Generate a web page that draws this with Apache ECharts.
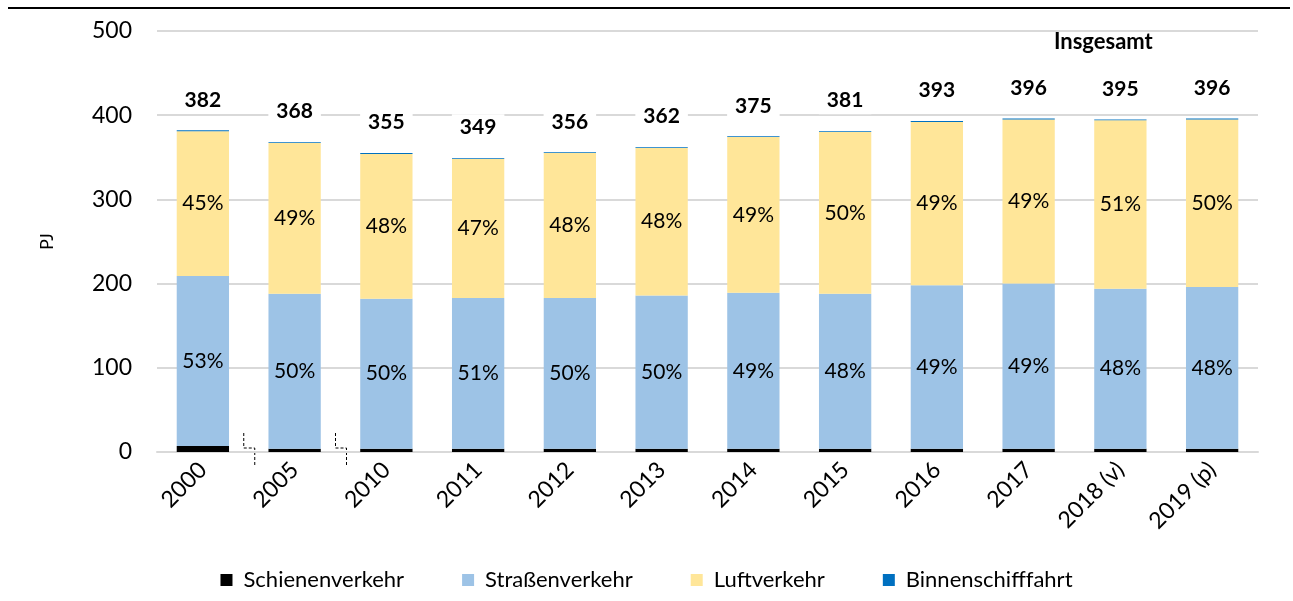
<!DOCTYPE html>
<html>
<head>
<meta charset="utf-8">
<script src="https://cdn.jsdelivr.net/npm/echarts@6/dist/echarts.min.js"></script>
<style>
  html, body { margin: 0; padding: 0; background: #fff; }
  #chart { width: 1293px; height: 601px; }
</style>
</head>
<body>
<div id="chart"></div>
<script>
// Endenergieverbrauch im Verkehr nach Verkehrsträgern, in PJ
const years = ['2000', '2005', '2010', '2011', '2012', '2013', '2014', '2015', '2016', '2017', '2018 (v)', '2019 (p)'];
const schiene = [7, 4, 4, 4, 4, 4, 4, 4, 4, 4, 4, 4];
const strasse = [202, 184, 178, 179, 179, 182, 185, 184, 194, 196, 190, 192];
const luft = [172, 179, 172, 165, 172, 175, 185, 192, 194, 195, 200, 199];
const binnen = [1, 1, 1, 1, 1, 1, 1, 1, 1, 1, 1, 1];
const yTicks = [0, 100, 200, 300, 400, 500];

const FONT = 'Lato, "Open Sans", sans-serif';
const totals = years.map((_, i) => schiene[i] + strasse[i] + luft[i] + binnen[i]);
const pct = (arr) => (p) => Math.round(arr[p.dataIndex] / totals[p.dataIndex] * 100) + '%';

const chart = echarts.init(document.getElementById('chart'));

const option = {
  animation: false,
  textStyle: { fontFamily: FONT },
  grid: { left: 157, right: 35, top: 31, bottom: 149 },
  legend: {
    bottom: 5,
    left: 'center',
    itemWidth: 12,
    itemHeight: 12,
    itemGap: 58,
    icon: 'rect',
    textStyle: { fontFamily: FONT, fontSize: 22, color: '#000', padding: [0, 0, 0, 6] },
    data: ['Schienenverkehr', 'Straßenverkehr', 'Luftverkehr', 'Binnenschifffahrt']
  },
  xAxis: {
    type: 'category',
    data: years,
    axisLine: { lineStyle: { color: '#d9d9d9', width: 2 } },
    axisTick: { show: false },
    axisLabel: { rotate: 45, fontSize: 23, color: '#000', margin: 14, fontFamily: FONT }
  },
  yAxis: {
    type: 'value',
    min: yTicks[0],
    max: yTicks[yTicks.length - 1],
    interval: 100,
    name: 'PJ',
    nameLocation: 'middle',
    nameGap: 101,
    nameRotate: 90,
    nameTextStyle: { fontSize: 18, color: '#000', fontFamily: FONT },
    axisLine: { show: false },
    axisTick: { show: false },
    axisLabel: { fontSize: 23, color: '#000', margin: 25, fontFamily: FONT },
    splitLine: { lineStyle: { color: '#d9d9d9', width: 2 } }
  },
  series: [
    {
      name: 'Schienenverkehr', type: 'bar', stack: 'v', data: schiene,
      barCategoryGap: '43%',
      itemStyle: { color: '#000000' }
    },
    {
      name: 'Straßenverkehr', type: 'bar', stack: 'v', data: strasse,
      itemStyle: { color: '#9dc3e6' },
      label: { show: true, position: 'inside', formatter: pct(strasse), fontSize: 21, color: '#000', fontFamily: FONT }
    },
    {
      name: 'Luftverkehr', type: 'bar', stack: 'v', data: luft,
      itemStyle: { color: '#ffe699' },
      label: { show: true, position: 'inside', formatter: pct(luft), fontSize: 21, color: '#000', fontFamily: FONT }
    },
    {
      name: 'Binnenschifffahrt', type: 'bar', stack: 'v', data: binnen,
      itemStyle: { color: '#0070c0' },
      label: {
        show: true, position: 'top', distance: 17,
        formatter: (p) => String(totals[p.dataIndex]),
        fontSize: 21, fontWeight: 'bold', color: '#000', fontFamily: FONT,
        backgroundColor: '#fff', padding: [3, 8, 3, 8]
      }
    }
  ],
  graphic: [
    { type: 'line', shape: { x1: 8, y1: 8, x2: 1290, y2: 8 }, style: { stroke: '#000', lineWidth: 2 } },
    {
      type: 'text', left: 1054, top: 31,
      style: { text: 'Insgesamt', font: 'bold 22px ' + FONT, fill: '#000' }
    }
  ]
};

chart.setOption(option);

// Achsenbruch-Markierungen zwischen den ungleichen Zeitabständen (2000–2005–2010)
const y0 = chart.convertToPixel({ yAxisIndex: 0 }, 0);
const breaks = [];
for (let i = 0; i < 2; i++) {
  const xa = chart.convertToPixel({ xAxisIndex: 0 }, years[i]);
  const xb = chart.convertToPixel({ xAxisIndex: 0 }, years[i + 1]);
  const xm = (xa + xb) / 2;
  breaks.push({
    type: 'polyline',
    shape: { points: [[xm - 5, y0 - 19], [xm - 5, y0 - 4], [xm + 6, y0 - 4], [xm + 6, y0 + 13]] },
    style: { stroke: '#000', lineWidth: 1, lineDash: [3, 2], fill: null }
  });
}
chart.setOption({ graphic: option.graphic.concat(breaks) });
</script>
</body>
</html>
